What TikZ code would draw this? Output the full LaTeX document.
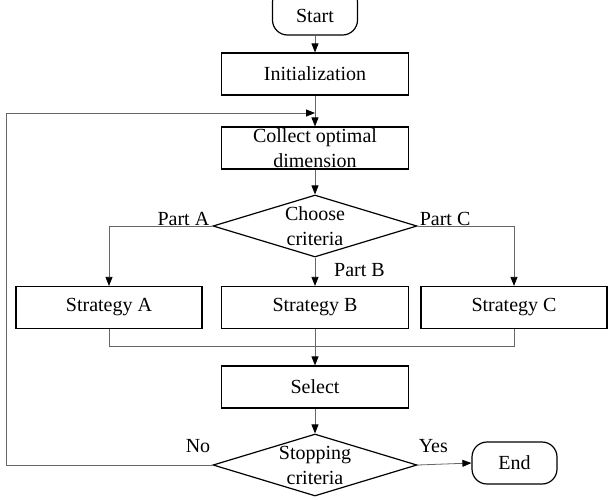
\documentclass[tikz,border=0pt]{standalone}
\usepackage{fontspec}
\setmainfont{Liberation Serif}
\usepackage{tikz}
\usetikzlibrary{arrows.meta,shapes.geometric,positioning}
\tikzstyle{process} = [draw, line width=1.2pt, rectangle,
    minimum width=187pt, minimum height=42pt, inner sep=0pt, align=center]
\tikzstyle{startstop} = [draw, line width=1.2pt, rectangle, rounded corners=15pt,
    minimum width=85pt, minimum height=42pt]
\tikzstyle{decision} = [draw, line width=1.2pt, diamond,
    minimum width=204pt, minimum height=62pt, inner sep=0pt]
\tikzstyle{line} = [draw=black!60, line width=0.8pt]
\tikzstyle{flow} = [line, -{Triangle[length=9pt,width=7pt,color=black]}]
\tikzstyle{tag} = [inner sep=0pt]

\begin{document}
\begin{tikzpicture}[x=1pt, y=-1pt,
    every node/.style={font=\fontsize{20}{25}\selectfont}]
\useasboundingbox (0,0) rectangle (609,499);
% main column
\node [startstop, minimum height=48pt] (start) at (315,11) {};
\node [tag] (starttxt) at (315,16) {Start};
\node [process] (init) at (315,74) {Initialization};
\node [process] (collect) at (315,148) {Collect optimal\\dimension};
\node [decision] (choose) at (315,226) {};
\node [align=center, tag] (choosetxt) at (choose) {Choose\\criteria};
% strategies
\node [process, minimum width=186pt] (sa) at (109,307.5) {Strategy A};
\node [process] (sb) at (315,307.5) {Strategy B};
\node [process, minimum width=186pt] (sc) at (514,307.5) {Strategy C};
\node [process] (select) at (315,387) {Select};
\node [decision] (stop) at (315,465) {};
\node [align=center, tag] (stoptxt) at (stop) {Stopping\\criteria};
\node [startstop] (end) at (514.5,463) {End};
% helper points
\coordinate (join) at (315,113);
\coordinate (merge) at (315,346);
\coordinate (left) at (6,0);
% connectors
\draw [flow] (start) -- (init);
\draw [flow] (init) -- (collect);
\draw [flow] (collect) -- (choose);
\draw [flow] (choose.west) -| (sa.north);
\draw [flow] (choose.south) -- (sb.north);
\draw [flow] (choose.east) -| (sc.north);
\draw [line] (sa.south) |- (merge) -| (sc.south);
\draw [flow] (sb.south) -- (select.north);
\draw [flow] (select) -- (stop);
\draw [flow] (stop.east) -- (end.west);
\draw [flow] (stop.west) -- (stop.west -| left) |- (join);
% branch labels
\node [tag, anchor=base east, xshift=-3pt, yshift=1pt] (parta) at (choose.west) {Part A};
\node [tag, anchor=base west, xshift=2pt, yshift=1pt] (partc) at (choose.east) {Part C};
\node [tag, anchor=base west, xshift=19pt, yshift=-19pt] (partb) at (choose.south) {Part B};
\node [tag, anchor=base east, xshift=-2pt, yshift=13pt] (no) at (stop.west) {No};
\node [tag, anchor=base west, xshift=1pt, yshift=13pt] (yes) at (stop.east) {Yes};
\end{tikzpicture}
\end{document}
